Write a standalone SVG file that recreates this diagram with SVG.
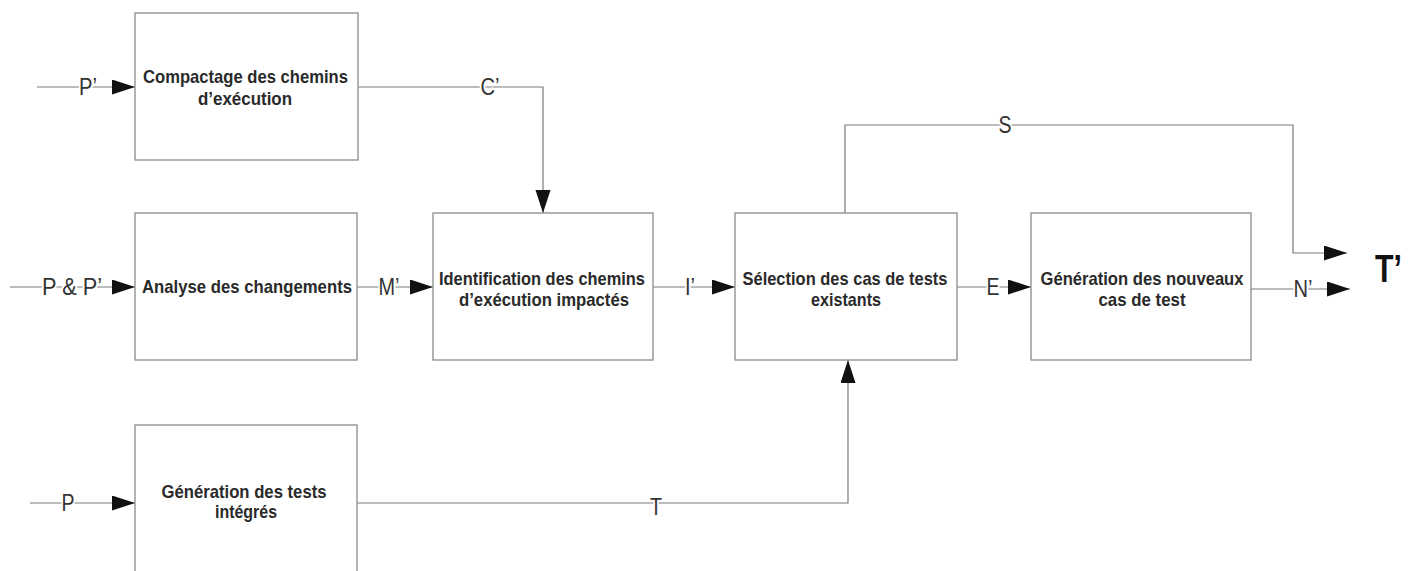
<svg xmlns="http://www.w3.org/2000/svg" width="1414" height="571" viewBox="0 0 1414 571">
<defs>
<marker id="ah" markerUnits="userSpaceOnUse" markerWidth="24" markerHeight="16" refX="23" refY="7.5" orient="auto">
<path d="M0,0 L23,7.5 L0,15 z" fill="#111"/>
</marker>
<style>
.box{fill:#fff;stroke:#8a8a8a;stroke-width:1.3}
.bt{font-family:"Liberation Sans",Arial,sans-serif;font-weight:bold;font-size:19px;fill:#2a2a2a;text-anchor:middle}
.ln{fill:none;stroke:#7a7a7a;stroke-width:1.2}
.lb{font-family:"Liberation Sans",Arial,sans-serif;font-size:23px;fill:#333;text-anchor:middle;paint-order:stroke;stroke:#fff;stroke-width:4px}
</style>
</defs>
<rect width="1414" height="571" fill="#fff"/>
<g id="connectors">
<path class="ln" d="M37,87 H135" marker-end="url(#ah)"/>
<path class="ln" d="M358,87 H543 V213" marker-end="url(#ah)"/>
<path class="ln" d="M10,287 H135" marker-end="url(#ah)"/>
<path class="ln" d="M357,287 H433" marker-end="url(#ah)"/>
<path class="ln" d="M653,287 H735" marker-end="url(#ah)"/>
<path class="ln" d="M957,287 H1031" marker-end="url(#ah)"/>
<path class="ln" d="M1251,289 H1350" marker-end="url(#ah)"/>
<path class="ln" d="M845,213 V125 H1293 V253 H1347" marker-end="url(#ah)"/>
<path class="ln" d="M30,503 H135" marker-end="url(#ah)"/>
<path class="ln" d="M357,503 H848 V360" marker-end="url(#ah)"/>
<text class="lb" x="88" y="95" textLength="18" lengthAdjust="spacingAndGlyphs">P’</text>
<text class="lb" x="490" y="95" textLength="19" lengthAdjust="spacingAndGlyphs">C’</text>
<text class="lb" x="72" y="295" textLength="60" lengthAdjust="spacingAndGlyphs">P &amp; P’</text>
<text class="lb" x="389" y="295" textLength="21" lengthAdjust="spacingAndGlyphs">M’</text>
<text class="lb" x="690" y="295" textLength="10" lengthAdjust="spacingAndGlyphs">I’</text>
<text class="lb" x="993" y="295" textLength="13" lengthAdjust="spacingAndGlyphs">E</text>
<text class="lb" x="1303" y="297" textLength="19" lengthAdjust="spacingAndGlyphs">N’</text>
<text class="lb" x="1005" y="133" textLength="13" lengthAdjust="spacingAndGlyphs">S</text>
<text class="lb" x="68" y="511" textLength="13" lengthAdjust="spacingAndGlyphs">P</text>
<text class="lb" x="656" y="515" textLength="12" lengthAdjust="spacingAndGlyphs">T</text>
</g>
<g id="n1"><rect class="box" x="135" y="13" width="223" height="147"/>
<text class="bt" x="245.5" y="83" textLength="205" lengthAdjust="spacingAndGlyphs">Compactage des chemins</text>
<text class="bt" x="245" y="105" textLength="94" lengthAdjust="spacingAndGlyphs">d’exécution</text></g>
<g id="n2"><rect class="box" x="135" y="213" width="222" height="147"/>
<text class="bt" x="247" y="293" textLength="210" lengthAdjust="spacingAndGlyphs">Analyse des changements</text></g>
<g id="n3"><rect class="box" x="433" y="213" width="220" height="147"/>
<text class="bt" x="542" y="285" textLength="206" lengthAdjust="spacingAndGlyphs">Identification des chemins</text>
<text class="bt" x="544" y="306" textLength="170" lengthAdjust="spacingAndGlyphs">d’exécution impactés</text></g>
<g id="n4"><rect class="box" x="735" y="213" width="222" height="147"/>
<text class="bt" x="845" y="285" textLength="205" lengthAdjust="spacingAndGlyphs">Sélection des cas de tests</text>
<text class="bt" x="846" y="306" textLength="70" lengthAdjust="spacingAndGlyphs">existants</text></g>
<g id="n5"><rect class="box" x="1031" y="213" width="220" height="147"/>
<text class="bt" x="1142" y="285" textLength="203" lengthAdjust="spacingAndGlyphs">Génération des nouveaux</text>
<text class="bt" x="1142" y="306" textLength="87" lengthAdjust="spacingAndGlyphs">cas de test</text></g>
<g id="n6"><rect class="box" x="135" y="425" width="222" height="160"/>
<text class="bt" x="244" y="498" textLength="165" lengthAdjust="spacingAndGlyphs">Génération des tests</text>
<text class="bt" x="246" y="518" textLength="62" lengthAdjust="spacingAndGlyphs">intégrés</text></g>
<g id="out"><text x="1375" y="282" font-family="Liberation Sans,Arial,sans-serif" font-size="39" font-weight="bold" fill="#111" textLength="27" lengthAdjust="spacingAndGlyphs">T’</text></g>
</svg>
